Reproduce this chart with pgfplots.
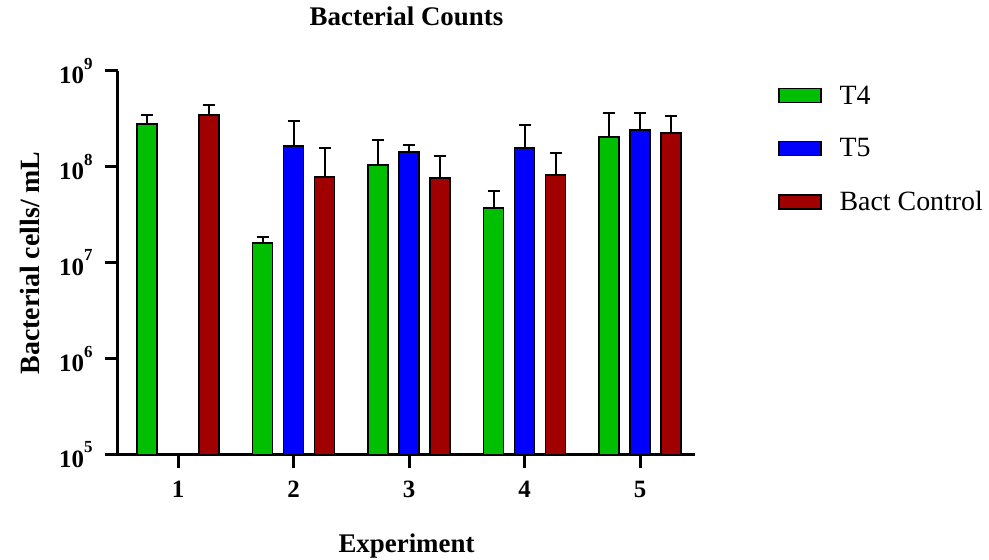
\documentclass[border=0pt]{standalone}
\usepackage{pgfplots}
\pgfplotsset{compat=1.18}
\usepackage{fontspec}
\setmainfont{Liberation Serif}
\definecolor{cgreen}{RGB}{0,190,0}
\definecolor{cblue}{RGB}{0,0,255}
\definecolor{cred}{RGB}{160,0,0}
\newcommand{\supx}[1]{\raisebox{0.6em}{\fontsize{17}{19}\selectfont #1}}
\begin{document}
\begin{tikzpicture}
\useasboundingbox (-118bp,-105bp) rectangle (871bp,455bp);
\begin{axis}[
  at={(0,0)}, anchor=south west,
  scale only axis, width=577bp, height=384bp,
  ymode=log, log origin=infty,
  ymin=1e5, ymax=1e9,
  xmin=0.48, xmax=5.476,
  axis lines=left, axis line style={line width=3bp, -},
  ybar=11bp, bar width=20bp,
  xtick={1,2,3,4,5},
  xticklabels={1,2,3,4,5},
  ytick={1e5,1e6,1e7,1e8,1e9},
  yticklabels={10\supx{5},10\supx{6},10\supx{7},10\supx{8},10\supx{9}},
  minor ytick={}, yminorticks=false,
  tick style={line width=3bp, black},
  tick align=outside, major tick length=13bp,
  xticklabel style={font=\fontsize{25}{28}\selectfont\bfseries, yshift=-10bp},
  yticklabel style={font=\fontsize{25}{28}\selectfont\bfseries, xshift=-9bp},
  xlabel={Experiment}, ylabel={Bacterial cells/ mL},
  xlabel style={font=\fontsize{27}{32}\selectfont\bfseries, at={(axis description cs:0.5,0)}, anchor=center, yshift=-91bp},
  ylabel style={font=\fontsize{28}{32}\selectfont\bfseries, at={(axis description cs:0,0.5)}, anchor=center, yshift=88bp},
  title={Bacterial Counts},
  title style={font=\fontsize{27}{30}\selectfont\bfseries, at={(axis description cs:0.5,1)}, anchor=center, yshift=49bp},
  legend style={at={(rel axis cs:1.144,0.967)}, anchor=north west, draw=none, fill=none,
    font=\fontsize{28}{32}\selectfont, row sep=29bp, inner sep=0pt,
    /tikz/every odd column/.append style={column sep=16bp}},
  legend cell align=left,
  legend image code/.code={\draw[#1, line width=1.3bp] (0bp,-7bp) rectangle (42bp,7bp);},
  error bars/y dir=plus, error bars/y explicit,
  error bars/error bar style={line width=2bp, black},
  error bars/error mark options={rotate=90, mark size=6bp, line width=2bp, black},
]
\addplot[fill=cgreen, draw=black, line width=1.3bp] coordinates {
  (1,2.81e8) +- (0,0.67e8)
  (2,1.62e7) +- (0,0.25e7)
  (3,1.05e8) +- (0,0.86e8)
  (4,3.74e7) +- (0,1.88e7)
  (5,2.05e8) +- (0,1.60e8)
};
\addplot[fill=cblue, draw=black, line width=1.3bp] coordinates {
  (2,1.66e8) +- (0,1.35e8)
  (3,1.43e8) +- (0,0.26e8)
  (4,1.58e8) +- (0,1.16e8)
  (5,2.43e8) +- (0,1.22e8)
};
\addplot[fill=cred, draw=black, line width=1.3bp] coordinates {
  (1,3.48e8) +- (0,0.95e8)
  (2,7.87e7) +- (0,7.93e7)
  (3,7.68e7) +- (0,5.32e7)
  (4,8.25e7) +- (0,5.75e7)
  (5,2.26e8) +- (0,1.14e8)
};
\legend{T4,T5,Bact Control}
\end{axis}
\end{tikzpicture}
\end{document}
